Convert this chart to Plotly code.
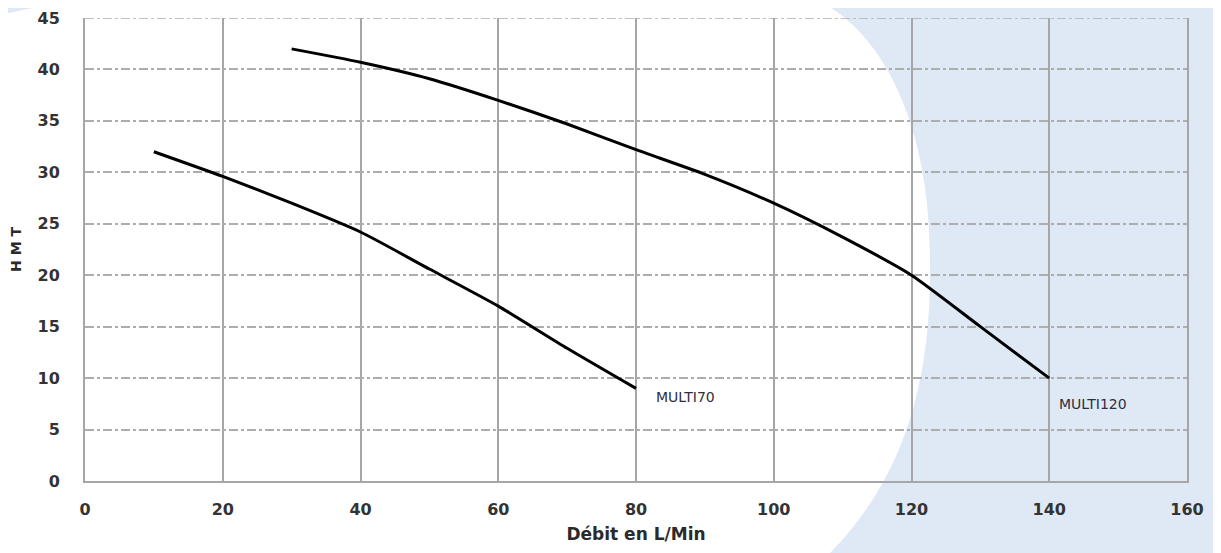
import plotly.graph_objects as go

# courbes débit / HMT
debit_multi70 = [10, 20, 30, 40, 50, 60, 70, 80]
hmt_multi70 = [32.0, 29.6, 27.0, 24.2, 20.6, 17.0, 12.9, 9.0]

debit_multi120 = [30, 40, 50, 60, 70, 80, 90, 100, 110, 120, 130, 140]
hmt_multi120 = [42.0, 40.7, 39.1, 37.0, 34.7, 32.2, 29.8, 27.0, 23.7, 20.0, 15.0, 10.0]

noms = ["MULTI70", "MULTI120"]
y_max = 45

# la page ajoute 8 px de marge autour de la figure
OFF = 8
W, H = 1221 - OFF, 553 - OFF
ML, MR, MT, MB = 85 - OFF, 34, 18 - OFF, 72
PW, PH = W - ML - MR, H - MT - MB


def px(x, y):
    # pixel de la page -> coordonnées papier
    return f"{(x - OFF - ML) / PW:.4f},{(H + OFF - MB - y) / PH:.4f}"


# fond blanc arrondi sur fond bleu clair
chemin = (
    f"M {px(0, 15)} L {px(70, 0)} L {px(817, 0)} "
    f"C {px(880, 30)} {px(930, 120)} {px(930, 260)} "
    f"C {px(932, 400)} {px(895, 490)} {px(823, 560)} "
    f"L {px(0, 560)} Z"
)

fig = go.Figure()

fig.add_trace(go.Scatter(
    x=debit_multi70, y=hmt_multi70, mode="lines", name=noms[0],
    line=dict(color="black", width=3, shape="spline", smoothing=0.6),
))
fig.add_trace(go.Scatter(
    x=debit_multi120, y=hmt_multi120, mode="lines", name=noms[1],
    line=dict(color="black", width=3, shape="spline", smoothing=0.6),
))

fig.add_annotation(x=debit_multi70[-1], y=hmt_multi70[-1], text=noms[0],
                   showarrow=False, xanchor="left", yanchor="middle",
                   xshift=18, yshift=-9,
                   font=dict(family="DejaVu Sans", size=14, color="#2e2e40"))
fig.add_annotation(x=debit_multi120[-1], y=hmt_multi120[-1], text=noms[1],
                   showarrow=False, xanchor="left", yanchor="middle",
                   xshift=8, yshift=-26,
                   font=dict(family="DejaVu Sans", size=14, color="#2e2e40"))

fig.add_shape(type="path", path=chemin, xref="paper", yref="paper",
              fillcolor="white", line=dict(width=0), layer="below")
# ligne de grille du haut
fig.add_hline(y=y_max, line=dict(color="#adadad", width=1.5, dash="dashdot"), layer="below")

tickfont = dict(family="DejaVu Sans", size=16, color="#333333", weight="bold")

fig.update_layout(
    width=W, height=H,
    margin=dict(l=ML, r=MR, t=MT, b=MB),
    paper_bgcolor="#dfe9f5",
    plot_bgcolor="rgba(0,0,0,0)",
    showlegend=False,
    xaxis=dict(
        range=[0, 160], dtick=20, tick0=0,
        showgrid=True, gridcolor="#a6a6a6", gridwidth=2,
        showline=True, linecolor="#a6a6a6", linewidth=2,
        zeroline=False, tickfont=tickfont, ticklabelstandoff=13,
        ticklabeloverflow="allow",
        title=dict(text="Débit en L/Min", standoff=10,
                   font=dict(family="DejaVu Sans", size=17, color="#2a2a2a", weight="bold")),
        automargin=False,
    ),
    yaxis=dict(
        range=[0, y_max], dtick=5, tick0=0,
        showgrid=True, gridcolor="#adadad", gridwidth=1.5, griddash="dashdot",
        showline=True, linecolor="#a6a6a6", linewidth=2, mirror=True,
        zeroline=False, tickfont=tickfont, ticklabelstandoff=20,
        ticklabeloverflow="allow",
        title=dict(text="H M T", standoff=14,
                   font=dict(family="DejaVu Sans", size=14, color="#2a2a2a", weight="bold")),
        automargin=False,
    ),
)

fig.write_html("out.html")
